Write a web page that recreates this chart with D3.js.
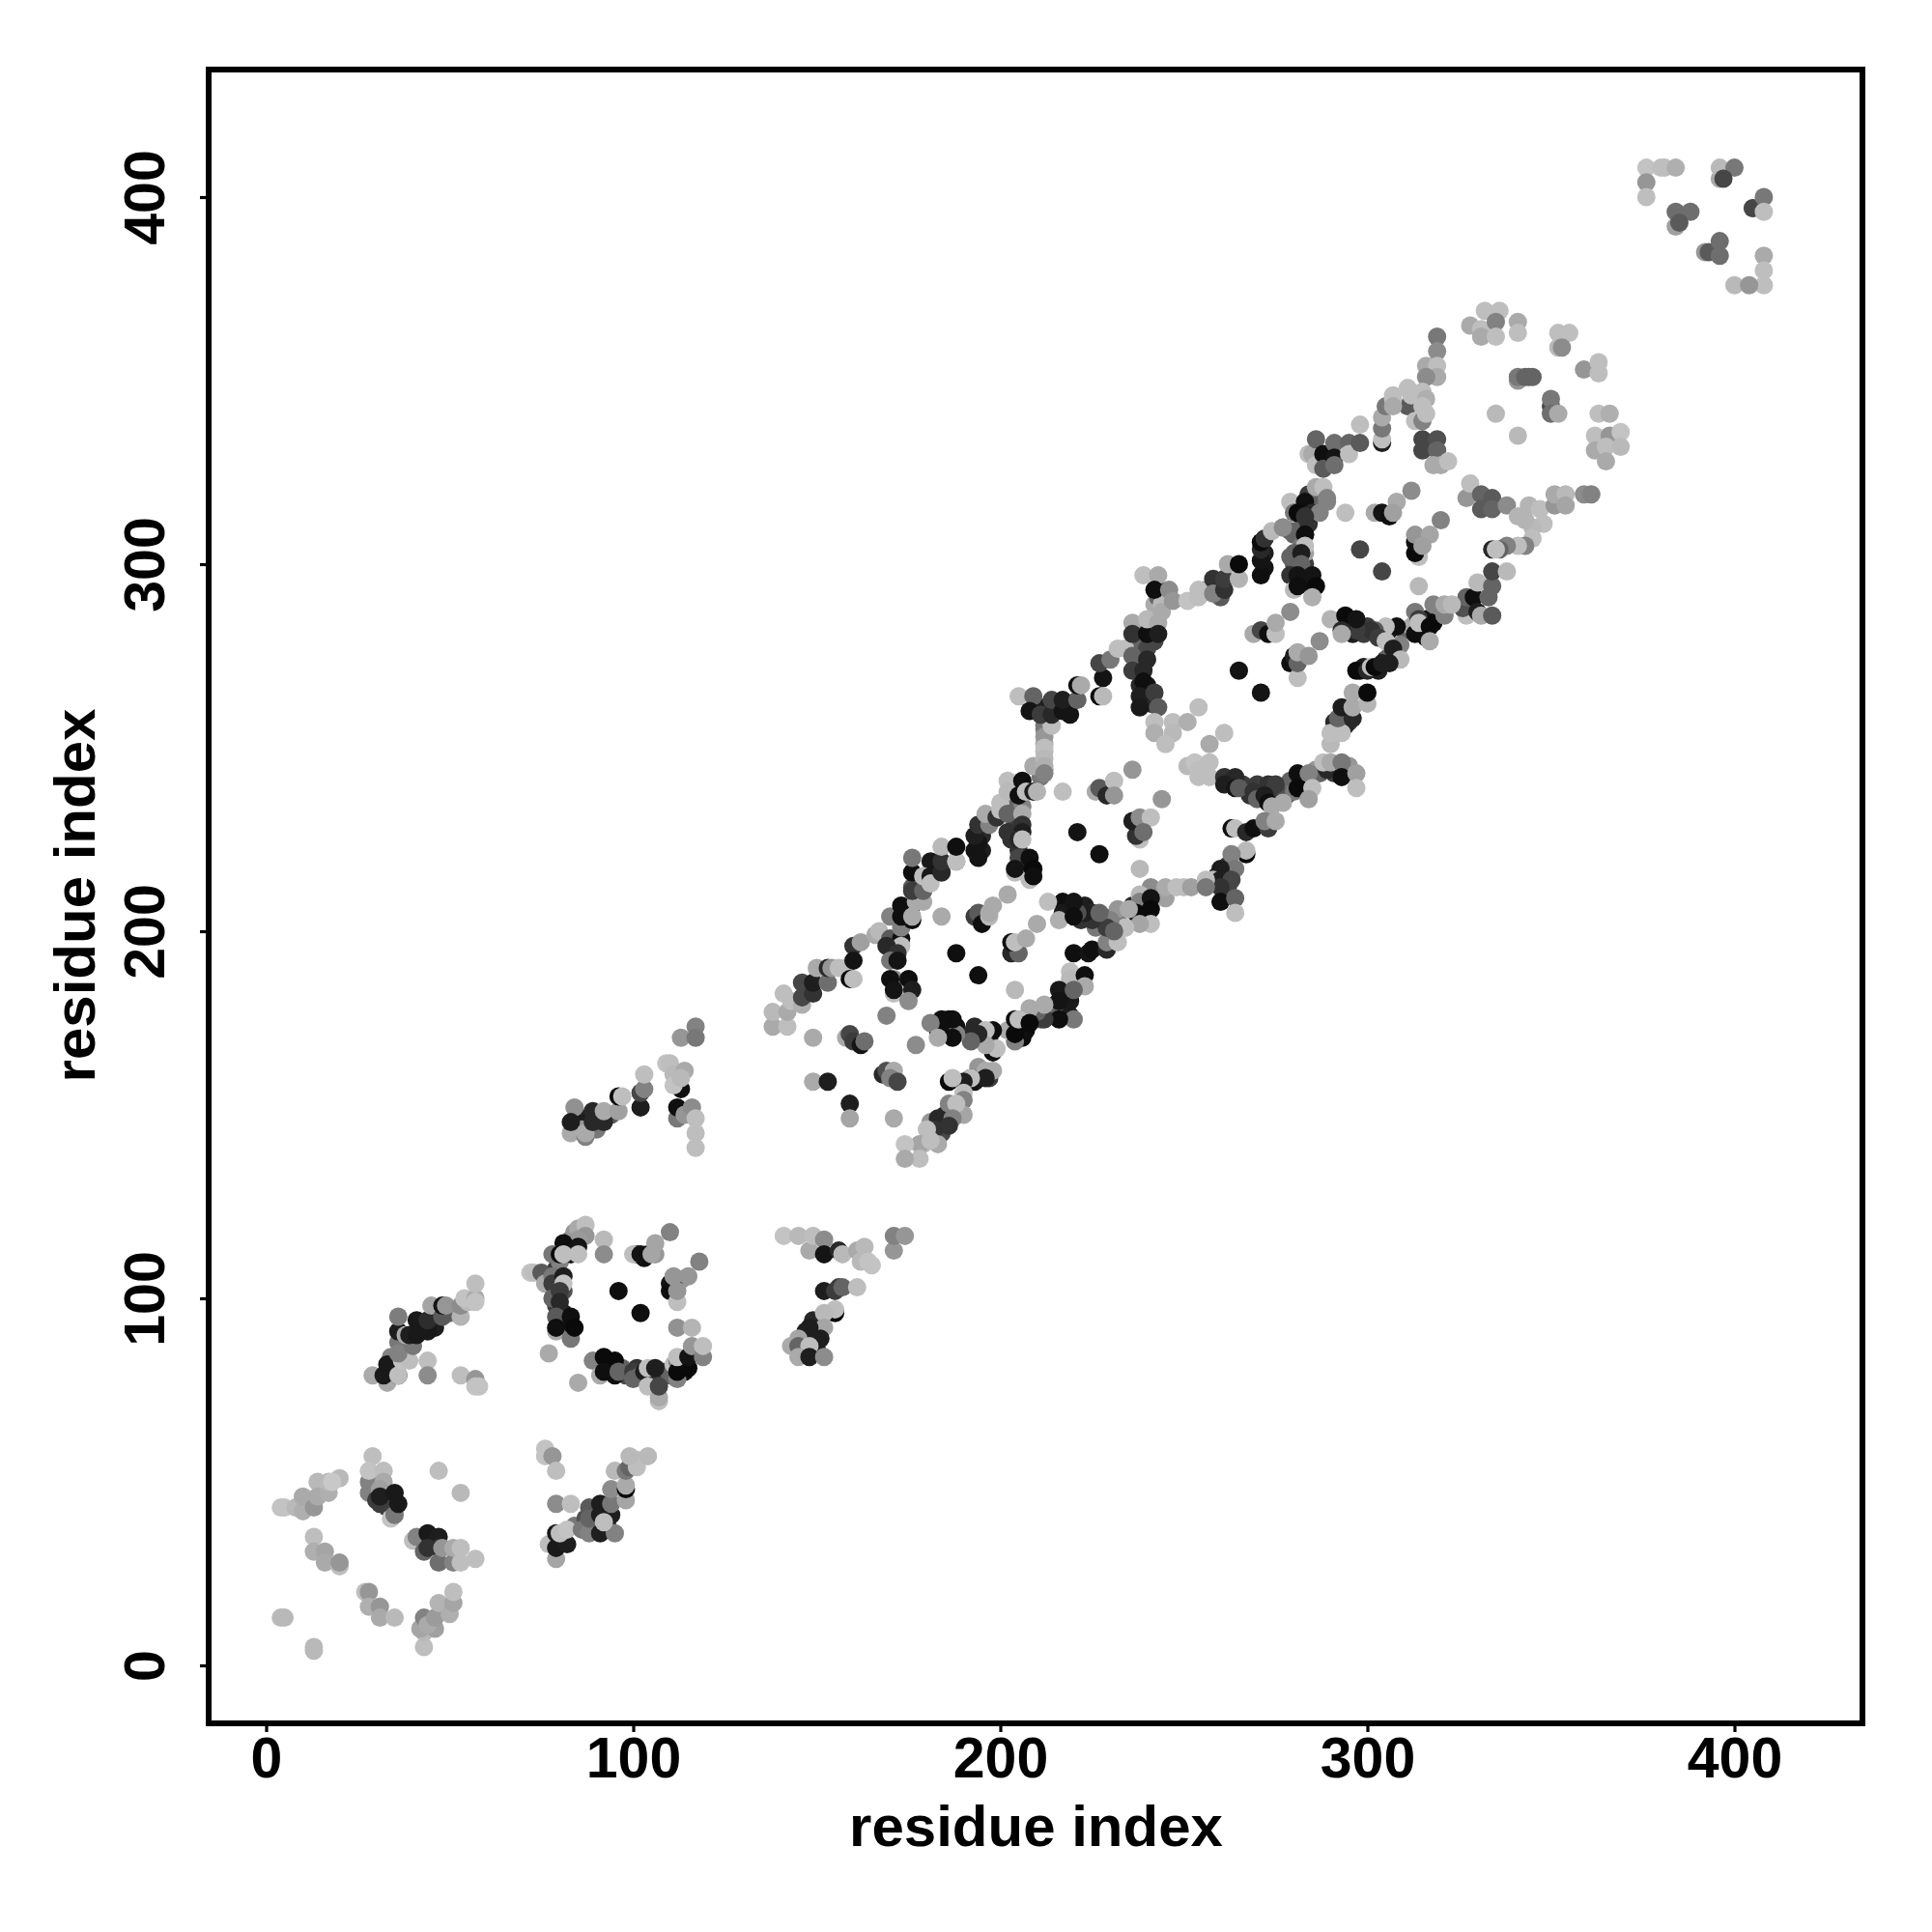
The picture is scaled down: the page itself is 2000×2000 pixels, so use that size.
<!DOCTYPE html>
<html><head><meta charset="utf-8">
<script src="https://cdn.jsdelivr.net/npm/d3@7/dist/d3.min.js"></script>
<style>html,body{margin:0;background:#fff}svg{display:block}text{font-family:"Liberation Sans",Arial,sans-serif;font-weight:700}</style>
</head><body><svg id="c" width="2000" height="2000"></svg>
<script>
const xTicks=[0,100,200,300,400], yTicks=[0,100,200,300,400];
const xTitle="residue index", yTitle="residue index";
// each row: residue i, residue j, shade (0 black .. 255 white)
const groupUnder=[[38,87,100],[34,84,130],[42,92,30],[46,92,30],[50,96,100],[79,98,60],[81,102,80],[79,108,60],[82,93,20],[81,96,30],[80,110,130],[83,116,100],[84,118,150],[93,82,10],[94,80,15],[97,81,100],[98,79,70],[101,81,50],[105,79,50],[108,80,60],[110,79,100],[113,82,30],[114,80,15],[110,104,20],[110,102,15],[113,105,150],[101,112,50],[103,111,15],[106,112,150],[195,222,30],[195,226,40],[193,222,20],[204,230,60],[204,234,100],[206,234,130],[205,222,50],[207,218,15],[206,218,15],[207,216,15],[212,255,130],[212,251,170],[212,249,180],[212,244,140],[211,242,120],[212,261,50],[216,261,30],[219,262,60],[219,259,20],[210,261,30],[237,273,60],[238,277,100],[238,267,40],[240,267,20],[240,263,30],[241,262,40],[240,277,70],[238,283,120],[241,283,30],[242,279,70],[242,289,170],[243,291,100],[243,293,30],[245,291,170],[259,294,50],[260,291,90],[256,293,150],[272,299,20],[272,303,30],[282,297,20],[283,295,10],[284,296,15],[280,300,80],[283,300,60],[282,310,100],[284,311,50],[282,316,10],[285,316,20],[284,319,60],[286,317,100],[295,285,10],[295,283,15],[296,281,30],[298,283,60],[299,281,60],[300,283,60],[304,281,50],[306,282,30],[310,282,100],[298,271,15],[299,272,30],[303,271,30],[305,274,60],[306,275,100],[315,282,15],[316,285,20],[318,284,10],[316,280,15],[263,241,40],[266,240,60],[268,237,50],[270,240,60],[274,238,50],[276,238,60],[271,238,70],[278,237,80],[282,241,15],[283,239,15],[279,241,100],[280,238,120],[286,244,150],[287,243,100],[291,243,60],[292,244,90],[295,245,150],[294,259,30],[295,257,60],[291,257,40],[294,256,40],[261,216,30],[259,215,40],[261,210,40],[262,212,70],[262,218,60],[222,203,50],[223,207,30],[225,205,40],[226,201,120],[228,204,80],[232,204,120],[236,207,40],[239,206,20],[185,174,10],[188,174,15],[186,172,15],[186,176,20],[183,173,15],[193,174,40],[195,171,60],[197,171,40],[206,176,20],[205,174,10],[206,171,10],[209,177,30],[211,176,90],[218,183,25],[218,179,25],[217,178,20],[219,177,30],[214,177,70],[215,180,100],[184,147,50],[185,150,40],[184,145,70],[181,148,150],[193,159,20],[195,161,40],[194,163,150],[197,160,60],[147,91,30],[149,94,40],[150,91,40],[146,85,130],[150,86,30],[86,149,30],[86,146,150],[90,146,120],[91,150,40],[94,150,90],[29,48,120],[32,46,40],[33,43,60],[84,38,120],[87,40,80],[90,37,40],[92,42,20],[93,38,60],[88,43,90]];
const groupA=[[4,13,185],[5,13,185],[13,4,185],[13,5,185],[4,43,195],[5,43,195],[8,43,185],[10,42,175],[10,46,170],[13,43,150],[14,50,185],[14,46,170],[17,47,175],[17,50,185],[20,51,185],[18,50,200],[13,35,190],[13,31,175],[16,31,165],[16,28,170],[20,27,190],[20,28,150],[27,20,190],[28,20,150],[28,16,175],[31,16,150],[31,13,170],[35,13,185],[43,5,190],[43,9,185],[42,10,165],[46,10,160],[43,13,130],[44,11,170],[46,13,155],[47,17,180],[50,14,175],[51,17,165],[51,20,190]];
const groupA2=[[29,57,190],[28,50,130],[28,47,130],[28,53,195],[32,53,190],[32,50,170],[31,48,160],[30,45,60],[31,44,60],[31,46,30],[34,40,195],[35,41,120],[35,47,25],[36,44,25],[47,53,190],[53,47,185],[40,34,190],[41,35,130],[43,31,100],[44,36,25],[47,35,30],[44,32,50],[47,32,50],[47,28,110],[51,28,130],[48,32,150],[51,32,170],[53,32,190],[53,28,190],[57,29,190]];
const groupA3=[[76,59,195],[76,57,195],[78,57,150],[79,53,190],[79,44,140],[83,44,190],[77,33,190],[79,29,165],[79,36,25],[79,32,25],[82,33,30],[80,36,190],[82,37,195],[86,37,120],[88,36,130],[89,39,130],[88,40,100],[91,36,30],[95,36,130],[91,44,30],[91,41,30],[94,41,30],[92,39,190],[94,44,120],[94,48,140],[98,45,165],[98,48,10],[98,49,170],[95,53,185],[98,53,120],[99,54,100],[101,54,190],[101,56,190],[99,57,185],[104,57,185]];
const groupB=[[29,79,170],[33,77,170],[32,79,25],[36,79,25],[33,82,25],[36,79,190],[37,83,195],[39,83,190],[44,83,190],[44,79,140],[53,79,190],[57,78,150],[58,76,195],[57,76,195],[36,88,120],[36,85,130],[36,91,30],[36,95,125],[40,87,120],[38,90,170],[39,90,30],[41,94,25],[41,90,25],[44,91,25],[44,94,45],[45,98,165],[48,95,90],[48,98,20],[49,98,150],[53,95,180],[53,98,140],[55,99,185],[54,100,195],[57,100,170],[57,99,195],[57,104,190]];
const groupC=[[85,119,170],[87,120,190],[87,117,150],[85,116,155],[81,115,15],[85,114,20],[92,116,185],[92,112,140],[78,112,120],[80,112,10],[83,112,20],[81,112,190],[85,112,190],[72,107,195],[73,107,190],[75,107,90],[76,104,170],[78,106,120],[78,104,60],[81,106,30],[81,104,195],[78,100,100],[80,102,60],[80,99,40],[79,95,90],[79,91,170],[83,89,120],[79,92,15],[83,95,15],[84,92,10],[77,85,170],[96,102,15],[102,96,15],[100,112,190],[102,112,20],[104,112,15],[106,115,165],[105,112,165],[110,118,130],[118,110,130],[111,103,10],[111,104,15],[112,99,190],[111,106,150],[112,102,150],[115,106,150],[112,92,145],[116,92,180],[85,77,170],[89,83,130],[91,79,170],[92,84,10],[95,83,10],[92,80,15],[95,79,15],[96,80,100],[100,80,60],[100,78,100],[102,79,100],[103,80,30],[104,76,190],[104,81,190],[106,81,30],[107,72,190],[107,73,170],[107,76,70],[112,78,130],[111,82,190],[112,83,120],[112,80,10],[115,81,10],[112,84,190],[115,84,20],[116,87,150],[119,84,130],[119,87,190]];
const groupD=[[141,117,195],[145,117,185],[148,113,170],[149,117,190],[152,116,140],[152,112,20],[156,113,40],[157,112,185],[161,113,170],[163,114,185],[162,110,185],[164,110,195],[165,109,195],[171,113,150],[171,117,130],[174,117,150],[152,102,30],[155,102,60],[156,103,60],[157,103,100],[161,103,190],[155,96,10],[155,97,190],[152,96,185],[152,92,165],[148,92,30],[148,89,30],[151,89,30],[145,89,165],[143,87,170],[145,87,100],[148,87,190],[145,84,170],[148,84,30],[152,84,140]];
const groupE=[[84,152,145],[83,145,170],[83,148,30],[87,144,130],[87,145,170],[89,151,40],[89,148,40],[92,148,40],[92,151,170],[96,151,160],[96,155,10],[97,155,190],[102,152,30],[102,156,70],[103,157,130],[103,161,190],[109,164,195],[110,164,190],[111,161,185],[114,162,170],[113,157,15],[111,158,195],[113,160,185],[112,149,120],[112,152,15],[114,150,150],[116,152,140],[117,149,190],[117,145,190],[117,141,190],[113,171,150],[117,174,130],[117,171,120]];
const groupF=[[138,174,170],[142,174,190],[138,178,185],[141,183,190],[142,178,170],[143,181,190],[146,180,175],[146,186,70],[146,182,70],[149,183,50],[149,186,30],[150,190,170],[153,186,110],[153,190,40],[154,190,150],[156,190,190],[160,196,50],[162,197,160],[158,190,190],[160,192,20],[159,187,10],[160,187,190],[166,199,170],[167,200,185],[170,198,90],[173,198,15],[173,196,190],[169,196,40],[172,194,50],[170,192,120],[172,192,20],[171,187,140],[170,187,15],[175,187,15],[171,183,190],[171,184,20],[176,184,30],[175,181,140]];
const groupBand=[[170,204,130],[173,201,130],[173,207,15],[176,207,15],[173,204,15],[176,203,15],[176,204,170],[177,208,170],[179,208,170],[176,212,90],[176,211,60],[179,211,100],[176,216,15],[176,220,120],[181,219,25],[179,215,190],[181,215,25],[181,213,190],[184,216,40],[184,219,50],[184,223,185],[188,219,130],[188,219,190],[188,223,15],[184,204,170]];
const groupG=[[188,194,15],[194,188,15],[204,184,185],[210,202,170],[193,204,60],[194,205,90],[195,202,15],[197,204,185],[197,205,170],[198,207,170],[202,210,170],[203,194,40],[205,194,100],[203,197,15],[204,197,190],[207,198,170],[220,194,15],[224,194,20],[225,195,15],[229,195,40],[229,197,130],[232,197,190],[234,201,185],[219,189,190],[219,187,185],[223,188,15],[223,185,170]];
const groupH=[[216,184,25],[219,181,25],[216,181,20],[220,184,100],[220,176,120],[216,176,15],[212,176,60],[210,178,100],[212,180,170],[208,179,170],[204,170,130],[202,173,170],[207,173,15],[204,172,10],[204,176,15],[205,176,190],[208,175,10],[198,167,15],[199,168,190],[198,173,15],[196,173,190],[196,169,170],[194,172,40],[192,172,40],[192,170,100],[188,172,130],[187,176,15],[184,176,15],[184,172,15],[187,171,15],[181,175,130],[183,171,170],[198,162,170],[196,162,170],[196,160,30],[192,160,15],[192,160,190],[190,159,30],[186,159,10],[187,160,190],[190,156,190],[189,153,10],[190,154,130],[190,150,165],[186,153,130],[188,153,190],[183,149,40],[187,149,130],[182,146,50],[186,147,50],[180,146,190],[183,142,170],[179,142,180],[178,142,165],[174,142,195],[178,138,190],[174,138,170],[181,143,190]];
const groupI=[[158,171,170],[159,172,70],[160,170,60],[162,169,20],[163,170,110],[169,177,130],[177,169,140],[149,171,170],[168,161,40],[169,162,80],[171,162,170],[170,160,130],[172,159,70],[149,159,170],[153,159,30],[159,153,30],[159,149,165],[171,149,170]];
const groupJ=[[194,220,20],[194,224,20],[193,226,30],[194,229,50],[197,229,130],[196,232,170],[200,235,190],[202,241,190],[202,238,185],[205,237,15],[206,241,15],[207,238,190],[209,238,30],[210,238,180],[199,231,50],[200,233,190],[202,232,100],[206,232,170],[202,227,50],[206,229,50],[206,227,30],[203,225,50],[205,225,40],[206,225,190],[205,220,70],[208,220,15],[204,216,190],[204,217,20],[208,214,190],[209,217,10],[209,215,15]];
const groupK=[[209,245,170],[212,256,120],[212,253,150],[212,250,190],[212,247,185],[212,245,175],[212,243,130],[214,256,190],[205,264,190],[209,264,100],[208,260,20],[211,259,60],[214,259,40],[214,263,70],[217,260,20],[217,263,30],[221,263,100],[221,267,15],[222,267,170],[227,264,10],[228,264,185],[228,269,20],[227,273,70],[230,274,120],[232,277,190],[234,277,190],[236,284,170],[236,281,50],[240,281,15],[240,285,185],[243,284,170],[243,281,30],[244,289,185],[244,287,170],[239,297,190],[243,297,170],[242,293,15],[246,293,140],[247,290,150],[251,290,195],[254,293,190],[254,291,190],[258,296,50],[258,292,130],[261,293,50],[261,296,60],[262,300,170],[265,296,180],[265,300,10]];
const groupL=[[271,297,15],[271,301,20],[271,304,40],[271,306,10],[272,307,50],[274,309,185],[277,310,160],[279,302,100],[280,308,100],[283,308,15],[282,305,120],[282,301,30],[283,303,160],[236,275,100],[240,274,40],[236,271,60],[239,271,40],[239,268,15],[238,264,30],[242,265,60],[238,261,25],[243,261,90],[242,257,190],[247,257,190],[242,254,175],[247,254,185],[245,251,190],[251,257,175],[254,261,190]];
const groupM=[[261,254,190],[257,251,170],[251,245,185],[253,246,195],[257,246,190],[254,242,190],[257,242,190],[254,244,190],[261,242,50],[264,242,40],[261,240,30],[264,239,20],[265,239,90],[269,238,50],[273,240,50],[275,240,60],[270,236,100],[272,237,30],[273,235,15],[274,234,170],[277,235,170],[281,243,15],[281,239,10],[284,243,130],[285,239,190],[284,236,160],[289,244,40],[288,246,190],[290,246,170],[293,246,120],[293,242,15],[297,243,160],[297,239,190],[290,251,185],[290,254,190],[293,254,190],[292,258,100],[296,258,40],[293,261,30],[296,261,170],[300,262,180],[296,265,170],[300,265,10]];
const groupN=[[263,228,15],[264,228,190],[267,227,40],[269,228,15],[273,228,60],[272,230,130],[275,230,170],[267,221,10],[267,222,185],[263,221,130],[264,217,120],[260,217,30],[258,214,190],[260,214,30],[263,214,70],[260,212,50],[260,208,15],[264,209,100],[264,205,190],[241,212,140],[245,209,160],[245,212,170],[248,212,190],[250,212,190],[252,212,160],[256,214,190],[256,212,120],[238,210,185],[238,208,130],[241,209,20],[241,206,10],[241,202,190],[237,205,10],[238,202,165],[232,206,150],[235,206,170],[234,201,190],[230,203,130],[229,201,60],[231,200,100],[225,203,50],[223,205,30],[227,205,100],[221,205,80],[217,208,15],[217,205,25],[220,208,20],[213,208,190],[216,203,175],[220,204,15]];
const groupO=[[217,238,190],[221,227,20],[227,221,15],[238,217,185],[236,244,150],[244,236,150],[226,238,170],[227,239,90],[229,237,40],[231,241,190],[231,237,150],[238,225,190],[237,226,50],[236,230,30],[238,231,140],[241,231,190],[239,227,110]];
const groupP=[[294,314,190],[298,304,70],[304,298,70],[314,294,185],[312,320,140],[320,312,130],[302,314,170],[304,314,20],[306,313,15],[308,317,170],[307,314,160],[314,302,190],[313,303,10],[313,306,15],[313,308,150],[317,308,165],[315,305,160],[265,271,20],[271,265,20],[279,287,140],[287,279,140],[269,281,170],[271,282,70],[273,281,15],[275,281,190],[275,284,170],[279,273,15],[281,269,190],[280,275,30],[281,273,100],[281,276,170],[284,275,150]];
const groupQ=[[279,317,190],[283,317,15],[280,314,120],[281,314,10],[285,314,40],[287,314,130],[283,313,50],[289,317,130],[286,321,170],[288,321,190],[289,318,130],[279,309,100],[277,310,140],[283,308,15],[283,305,190],[280,303,100],[282,303,30],[282,300,100],[279,297,50],[281,297,20],[285,297,20],[280,293,185],[281,294,15],[286,294,10],[285,291,175]];
const groupR=[[311,343,90],[284,330,190],[285,330,170],[286,334,100],[286,327,190],[288,330,15],[288,326,90],[291,333,110],[291,329,20],[291,327,110],[295,333,100],[295,330,190],[298,338,190],[298,333,90],[304,333,30],[304,334,190],[304,337,120],[304,340,170],[305,343,120],[307,346,190],[319,362,120],[319,358,140],[316,354,170],[319,354,190],[319,351,170],[316,351,140],[311,348,190],[312,346,190],[313,339,190],[315,347,190],[316,345,175],[315,343,190],[315,339,130],[316,341,190],[307,345,190],[307,343,170]];
const groupS=[[327,318,150],[328,322,190],[331,319,100],[334,318,90],[331,315,90],[334,315,100],[338,316,140],[341,313,180],[344,316,180],[347,315,190],[348,311,190],[345,310,185],[343,312,180],[345,307,190],[343,305,130],[341,305,190],[338,305,130],[336,304,100],[334,304,40],[335,304,190],[351,316,150],[351,319,170],[354,319,185],[354,316,165],[359,319,140],[361,319,130],[315,334,70],[319,334,80],[315,331,70],[319,331,100],[318,327,170],[320,327,170],[322,328,190]];
const groupT=[[327,286,190],[326,288,80],[327,291,100],[329,291,15],[330,295,185],[330,287,30],[331,286,170],[333,291,100],[334,294,100],[334,298,70],[338,298,185],[334,286,90],[318,289,130],[321,286,130],[321,289,170],[323,289,185],[312,283,170],[313,281,15],[313,287,120],[314,285,60],[314,284,190],[317,283,10],[317,279,170],[309,278,130],[308,283,15],[305,283,190],[302,282,90],[301,282,50],[297,282,60],[303,280,60],[305,279,190],[307,277,30],[309,274,185],[306,273,30],[290,285,180],[294,286,10],[297,285,20],[293,282,40],[293,281,170],[297,271,10],[300,271,40],[301,272,190],[302,272,10],[304,273,30]];
const groupU=[[328,365,170],[332,369,190],[336,369,190],[331,364,190],[331,362,170],[335,366,130],[335,362,190],[341,366,170],[341,363,190],[352,363,190],[355,363,190],[352,359,185],[353,359,140],[359,353,150],[363,355,190],[363,352,190],[341,350,150],[341,351,120],[343,351,100],[344,351,100],[345,351,100],[350,343,70],[350,345,120],[350,341,110],[352,341,170],[335,341,185],[341,335,185],[363,341,190],[366,341,175],[362,335,190],[366,335,150],[369,336,195],[362,331,170],[365,332,190],[369,332,185],[365,328,170]];
const groupV=[[376,408,195],[380,408,190],[381,408,190],[384,408,175],[376,404,150],[376,400,190],[384,392,160],[384,396,110],[388,396,110],[385,393,90],[396,405,170],[396,408,185],[400,408,120],[397,405,70],[405,397,150],[405,397,70],[408,400,120],[408,396,190],[392,385,150],[393,385,90],[396,388,110],[396,384,110],[408,384,170],[408,380,190],[408,376,190],[400,376,185],[404,376,150]];
const groups=[groupUnder,groupA,groupA2,groupA3,groupB,groupC,groupD,groupE,groupF,groupBand,groupG,groupH,groupI,groupJ,groupK,groupL,groupM,groupN,groupO,groupP,groupQ,groupR,groupS,groupT,groupU,groupV];

const pL=216,pR=1928,pT=72,pB=1784;
const x=d3.scaleLinear().domain([-15.66,434.87]).range([pL,pR]);
const y=d3.scaleLinear().domain([-15.79,434.74]).range([pB,pT]);
const shade=d3.scaleLinear().domain([0,255]).range(["#000","#fff"]);
const svg=d3.select("#c");
svg.append("g").selectAll("circle").data(groups.flat()).join("circle")
  .attr("cx",d=>x(d[0])).attr("cy",d=>y(d[1])).attr("r",9.5).attr("fill",d=>shade(d[2]));
svg.append("rect").attr("x",pL).attr("y",pT).attr("width",pR-pL).attr("height",pB-pT)
  .attr("fill","none").attr("stroke","#000").attr("stroke-width",6);
const gx=svg.append("g").attr("transform",`translate(0,${pB})`).call(d3.axisBottom(x).tickValues(xTicks).tickSize(9));
gx.select(".domain").remove();
gx.selectAll("line").attr("stroke","#000").attr("stroke-width",3.2);
gx.selectAll("text").attr("y",56).attr("dy",0).attr("font-size",59).attr("fill","#000");
gx.attr("font-family",null).attr("font-size",null);
const gy=svg.append("g").attr("transform",`translate(${pL},0)`).call(d3.axisLeft(y).tickValues(yTicks).tickSize(9));
gy.select(".domain").remove();
gy.selectAll("line").attr("stroke","#000").attr("stroke-width",3.2);
gy.selectAll("text").attr("transform","rotate(-90)").attr("x",0).attr("y",-46).attr("dy",0).attr("text-anchor","middle").attr("font-size",59).attr("fill","#000");
gy.attr("font-family",null).attr("font-size",null);
svg.append("text").attr("x",1072.5).attr("y",1911).attr("text-anchor","middle").attr("font-size",60).text(xTitle);
svg.append("text").attr("transform","translate(98,927) rotate(-90)").attr("text-anchor","middle").attr("font-size",60).text(yTitle);
</script></body></html>
